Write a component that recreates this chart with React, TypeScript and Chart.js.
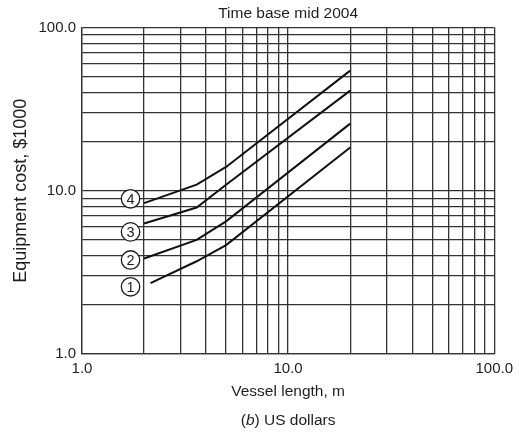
import React, { useEffect, useRef } from 'react';
import { Chart, registerables } from 'chart.js';

Chart.register(...registerables);

// Grid / tick values (log-log, both axes 1..100)
const gridValues = [1, 2, 3, 4, 5, 6, 7, 8, 9, 10, 20, 30, 40, 50, 60, 70, 80, 90, 100];
const labeledValues = [1, 10, 100];
const tickLabels = ['1.0', '10.0', '100.0'];

// Curves (vessel length m -> equipment cost $1000)
const curveIds = ['1', '2', '3', '4'];
const length1 = [2.15, 3.6, 5.0, 20];
const cost1 = [2.72, 3.7, 4.65, 18.4];
const length2 = [2.0, 3.6, 5.0, 20];
const cost2 = [3.85, 5.0, 6.5, 25.8];
const length3 = [2.0, 3.6, 5.0, 20];
const cost3 = [6.3, 7.9, 10.9, 41.1];
const length4 = [2.0, 3.6, 5.0, 20];
const cost4 = [8.4, 10.9, 14.0, 54.5];

// Circled curve labels, in data coordinates
const markerLength = [1.72, 1.72, 1.72, 1.72];
const markerCost = [2.58, 3.77, 5.6, 8.93];

const titleText = 'Time base mid 2004';
const xTitle = 'Vessel length, m';
const yTitle = 'Equipment cost, $1000';
const captionPre = '(';
const captionItalic = 'b';
const captionPost = ') US dollars';

const FONT = "'Liberation Sans', Arial, Helvetica, sans-serif";
const INK = '#1e1e1e';
const GRID = '#333333';

const lengths = [length1, length2, length3, length4];
const costs = [cost1, cost2, cost3, cost4];

export default function App() {
  const canvasRef = useRef<HTMLCanvasElement | null>(null);

  useEffect(() => {
    const canvas = canvasRef.current;
    if (!canvas) return;

    const circlePlugin = {
      id: 'circleLabels',
      afterDatasetsDraw(chart: any) {
        const { ctx, scales } = chart;
        const xs = scales.x;
        const ys = scales.y;
        ctx.save();
        curveIds.forEach((id, i) => {
          const px = xs.getPixelForValue(markerLength[i]);
          const py = ys.getPixelForValue(markerCost[i]);
          ctx.beginPath();
          ctx.arc(px, py, 9.2, 0, Math.PI * 2);
          ctx.fillStyle = '#ffffff';
          ctx.fill();
          ctx.lineWidth = 1.3;
          ctx.strokeStyle = INK;
          ctx.stroke();
          ctx.fillStyle = INK;
          ctx.font = `14.5px ${FONT}`;
          ctx.textAlign = 'center';
          ctx.textBaseline = 'middle';
          ctx.fillText(id, px, py + 1);
        });
        ctx.restore();
      },
    };

    const captionPlugin = {
      id: 'caption',
      afterDraw(chart: any) {
        const { ctx, chartArea } = chart;
        const cx = (chartArea.left + chartArea.right) / 2;
        const y = 421;
        ctx.save();
        ctx.fillStyle = INK;
        ctx.textBaseline = 'middle';
        ctx.textAlign = 'left';
        const normal = `15.5px ${FONT}`;
        const italic = `italic 15.5px ${FONT}`;
        ctx.font = normal;
        const w1 = ctx.measureText(captionPre).width;
        const w3 = ctx.measureText(captionPost).width;
        ctx.font = italic;
        const w2 = ctx.measureText(captionItalic).width;
        let x = cx - (w1 + w2 + w3) / 2;
        ctx.font = normal;
        ctx.fillText(captionPre, x, y);
        x += w1;
        ctx.font = italic;
        ctx.fillText(captionItalic, x, y);
        x += w2;
        ctx.font = normal;
        ctx.fillText(captionPost, x, y);
        ctx.restore();
      },
    };

    const tickCallback = (value: any) => {
      const idx = labeledValues.indexOf(Number(value));
      return idx >= 0 ? tickLabels[idx] : '';
    };

    const setTicks = (scale: any) => {
      scale.ticks = gridValues.map((v) => ({ value: v }));
    };

    const chart = new Chart(canvas, {
      type: 'line',
      data: {
        datasets: curveIds.map((id, i) => ({
          label: id,
          data: lengths[i].map((x, j) => ({ x, y: costs[i][j] })),
          borderColor: '#111111',
          borderWidth: 2,
          pointRadius: 0,
          tension: 0,
          fill: false,
        })),
      },
      options: {
        responsive: false,
        animation: false,
        events: [],
        layout: { padding: { left: 0, right: 22, top: 0, bottom: 30 } },
        plugins: {
          legend: { display: false },
          tooltip: { enabled: false },
          title: {
            display: true,
            text: titleText,
            fullSize: false,
            color: INK,
            font: { family: FONT, size: 15.5, weight: 'normal' },
            padding: { top: 4, bottom: 5 },
          },
        },
        scales: {
          x: {
            type: 'logarithmic',
            min: 1,
            max: 100,
            afterBuildTicks: setTicks,
            afterFit: (s: any) => {
              s.height = 50;
            },
            grid: { color: GRID, lineWidth: 1.3, drawTicks: false },
            border: { color: GRID, width: 1.3 },
            ticks: {
              autoSkip: false,
              maxRotation: 0,
              padding: 6,
              color: INK,
              font: { family: FONT, size: 15 },
              callback: tickCallback,
            },
            title: {
              display: true,
              text: xTitle,
              color: INK,
              font: { family: FONT, size: 15.5 },
              padding: { top: 0, bottom: 3 },
            },
          },
          y: {
            type: 'logarithmic',
            min: 1,
            max: 100,
            afterBuildTicks: setTicks,
            afterFit: (s: any) => {
              s.width = 82;
            },
            grid: { color: GRID, lineWidth: 1.3, drawTicks: false },
            border: { color: GRID, width: 1.3 },
            ticks: {
              autoSkip: false,
              padding: 6,
              color: INK,
              font: { family: FONT, size: 15 },
              callback: tickCallback,
            },
            title: {
              display: true,
              text: yTitle,
              color: INK,
              font: { family: FONT, size: 18 },
              padding: { top: 10, bottom: 0 },
            },
          },
        },
      },
      plugins: [circlePlugin, captionPlugin],
    } as any);

    return () => {
      chart.destroy();
    };
  }, []);

  return (
    <div style={{ position: 'fixed', left: 0, top: 0, width: 519, height: 434, background: '#ffffff' }}>
      <canvas ref={canvasRef} width={519} height={434} style={{ display: 'block' }} />
    </div>
  );
}
